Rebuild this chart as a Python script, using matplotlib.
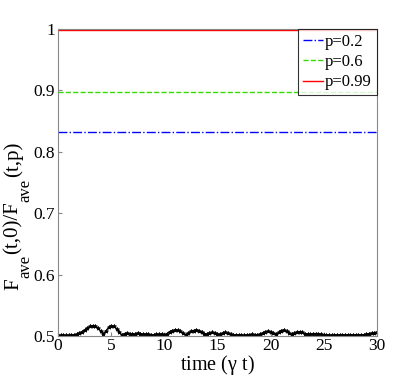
import numpy as np
import matplotlib
matplotlib.use("Agg")
import matplotlib.pyplot as plt

plt.rcParams['font.family'] = ['Liberation Serif', 'DejaVu Serif']
plt.rcParams['mathtext.fontset'] = 'custom'
plt.rcParams['mathtext.rm'] = 'Liberation Serif'
plt.rcParams['mathtext.it'] = 'Liberation Serif'

labels = ["p=0.2", "p=0.6", "p=0.99"]
levels = [0.833, 0.897, 0.998]
colors = ["#0000ff", "#33dd00", "#ff0000"]
styles = ["-.", "--", "-"]

t_vals = np.linspace(0, 30, 121)
ratio_p0 = [
    0.501, 0.501, 0.501, 0.501, 0.501, 0.5015, 0.502, 0.503, 0.505, 0.507,
    0.510, 0.513, 0.516, 0.517, 0.516, 0.513, 0.508, 0.503, 0.508, 0.514,
    0.517, 0.516, 0.512, 0.506, 0.502, 0.504, 0.505, 0.504, 0.503, 0.504,
    0.505, 0.504, 0.503, 0.503, 0.503, 0.502, 0.502, 0.503, 0.503, 0.503,
    0.502, 0.504, 0.507, 0.509, 0.510, 0.510, 0.508, 0.505, 0.502, 0.505,
    0.508, 0.509, 0.510, 0.509, 0.507, 0.504, 0.503, 0.505, 0.506, 0.505,
    0.503, 0.503, 0.505, 0.506, 0.505, 0.503, 0.502, 0.502, 0.502, 0.502,
    0.501, 0.502, 0.502, 0.503, 0.502, 0.502, 0.503, 0.505, 0.507, 0.508,
    0.507, 0.505, 0.503, 0.506, 0.509, 0.510, 0.508, 0.505, 0.503, 0.505,
    0.507, 0.507, 0.506, 0.504, 0.503, 0.503, 0.504, 0.504, 0.504, 0.503,
    0.502, 0.502, 0.502, 0.501, 0.502, 0.502, 0.502, 0.502, 0.502, 0.502,
    0.502, 0.502, 0.502, 0.502, 0.502, 0.502, 0.503, 0.504, 0.505, 0.505,
    0.506,
]
assert len(ratio_p0) == len(t_vals)

# y-label pieces: (text, is_subscript)
ylabel_parts = [("F", False), ("ave", True), ("(t,0)/F", False),
                ("ave", True), ("(t,p)", False)]

W, H = 415, 378
fig = plt.figure(figsize=(W / 100, H / 100), dpi=100)
ax = fig.add_axes([0.14, 0.111, 0.768, 0.812])

for lab, lev, c, s in zip(labels, levels, colors, styles):
    ax.plot([0, 30], [lev, lev], linestyle=s, color=c, lw=1.0, label=lab)

ax.plot(t_vals, ratio_p0, color='black', lw=1.0, marker='*', ms=3.0,
        markeredgewidth=0.6)

ax.set_xlim(0, 30)
ax.set_ylim(0.5, 1.0)
ax.set_xticks([0, 5, 10, 15, 20, 25, 30])
ax.set_yticks([0.5, 0.6, 0.7, 0.8, 0.9, 1.0])
ax.set_yticklabels(["0.5", "0.6", "0.7", "0.8", "0.9", "1"])
ax.tick_params(direction='in', length=3, labelsize=12.5, color='#888888')
ax.tick_params(axis='y', pad=2)
ax.tick_params(axis='x', pad=1.5)
for sp in ax.spines.values():
    sp.set_color('#888888')

ax.set_xlabel(r"time ($\gamma$ t)", fontsize=14.5, labelpad=-1)

leg = ax.legend(loc='upper right', fontsize=12, frameon=True, fancybox=False,
                borderaxespad=0, handlelength=1.15, handletextpad=0.15,
                borderpad=0.3, labelspacing=0.25)
leg.get_frame().set_edgecolor('black')
leg.get_frame().set_linewidth(0.8)

# Build the y label piece by piece (Matlab-style large subscripts)
fig.canvas.draw()
renderer = fig.canvas.get_renderer()
y_px = H - 290.0
main_x = 18.0
sub_x = 29.0
for txt, is_sub in ylabel_parts:
    t = fig.text((sub_x if is_sub else main_x) / W, y_px / H, txt,
                 rotation=90, rotation_mode='anchor', ha='left', va='baseline',
                 fontsize=12 if is_sub else 15)
    ext = t.get_window_extent(renderer)
    y_px += ext.height + (1.0 if is_sub else 0.0)

fig.savefig("out.png", dpi=100)
